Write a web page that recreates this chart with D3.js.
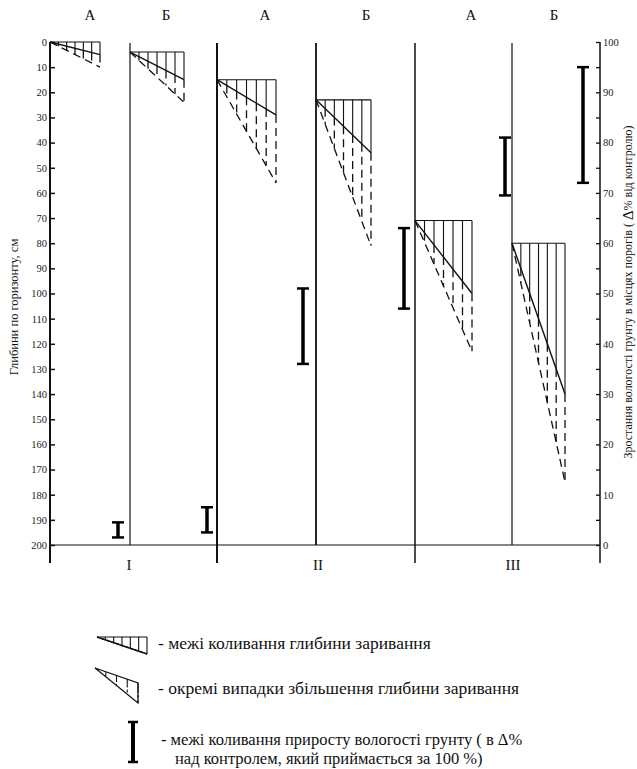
<!DOCTYPE html>
<meta charset="utf-8">
<style>
body { margin: 0; background: #fff; }
text { font-family: "Liberation Serif", "DejaVu Serif", serif; fill: #111; }
.tick text { font-family: "Liberation Serif", serif; font-size: 10.5px; fill: #222; }
</style>
<svg width="637" height="769"></svg>
<script src="https://cdn.jsdelivr.net/npm/d3@7/dist/d3.min.js"></script>
<script>
// chart values
var columns = ["I-А", "I-Б", "II-А", "II-Б", "III-А", "III-Б"];
var groups = ["I", "II", "III"];
var subLabels = ["А", "Б", "А", "Б", "А", "Б"];
var depthTop = [0, 4, 15, 23, 71, 80];       // start of ploughing-in, cm
var depthUsual = [5, 15, 29, 44, 100, 140];  // usual limit, cm
var depthMax = [10, 24, 56, 81, 123, 175];   // single cases, cm
var moistMin = [1.5, 2.5, 36, 47, 69.5, 72]; // Δ% over control
var moistMax = [4.5, 7.5, 51, 63, 81, 95];
var depthTicks = d3.range(0, 201, 10);
var moistTicks = d3.range(0, 101, 5);

var svg = d3.select("svg");

// scales
var yDepth = d3.scaleLinear().domain([0, 200]).range([42, 545]);
var yMoist = d3.scaleLinear().domain([0, 100]).range([545, 42]);
var xCol = d3.scaleOrdinal().domain(columns).range([50, 130, 217, 316, 415, 512]);
var triW = d3.scaleOrdinal().domain(columns).range([50, 54, 59, 55, 57, 53]);
var xBar = d3.scaleOrdinal().domain(columns).range([118, 207, 303, 404, 505, 583]);
var xSub = d3.scaleOrdinal().domain(columns).range([90, 166, 265, 366, 471, 554]);
var xGroup = d3.scaleOrdinal().domain(groups).range([129, 318, 513]);

// frame lines
var frame = [
  {x: 50, y1: 42, y2: 563, w: 2},
  {x: 130, y1: 43, y2: 545, w: 1.2},
  {x: 217, y1: 43, y2: 563, w: 2},
  {x: 316, y1: 43, y2: 545, w: 1.8},
  {x: 415, y1: 43, y2: 563, w: 1.5},
  {x: 512, y1: 43, y2: 545, w: 1.2},
  {x: 600, y1: 42, y2: 563, w: 1.5}
];
svg.append("g").selectAll("line").data(frame).enter().append("line")
    .attr("x1", function(d) { return d.x; }).attr("x2", function(d) { return d.x; })
    .attr("y1", function(d) { return d.y1; }).attr("y2", function(d) { return d.y2; })
    .attr("stroke", "#111").attr("stroke-width", function(d) { return d.w; });
svg.append("line").attr("x1", 50).attr("x2", 600).attr("y1", 545).attr("y2", 545)
    .attr("stroke", "#111").attr("stroke-width", 1.2);

// left axis (depth)
var gl = svg.append("g").attr("transform", "translate(50,0)")
    .call(d3.axisLeft(yDepth).tickValues(depthTicks).tickSize(-5).tickSizeOuter(0).tickPadding(3));
gl.select(".domain").remove();
gl.selectAll(".tick line").attr("stroke", "#111").attr("stroke-width", 1.5);

// right axis (moisture)
var gr = svg.append("g").attr("transform", "translate(600,0)")
    .call(d3.axisRight(yMoist).tickValues(moistTicks).tickSize(-4).tickSizeOuter(0).tickPadding(3)
      .tickFormat(function(d) { return d % 10 === 0 ? d : ""; }));
gr.select(".domain").remove();
gr.selectAll(".tick line").attr("stroke", "#111").attr("stroke-width", 1.3);

// axis titles
svg.append("text")
    .attr("transform", "translate(14,307) rotate(-90)")
    .attr("text-anchor", "middle").attr("dominant-baseline", "central")
    .style("font-size", "12.5px")
    .text("Глибини по горизонту, см");

var rt = svg.append("text")
    .attr("transform", "translate(628,292) rotate(-90)")
    .attr("text-anchor", "middle").attr("dominant-baseline", "central")
    .style("font-size", "12px");
rt.append("tspan").text("Зростання вологості грунту в місцях порогів ( ");
rt.append("tspan").style("font-size", "15px").text("Δ");
rt.append("tspan").text("% від контролю)");

// column and group labels
svg.append("g").selectAll("text").data(columns).enter().append("text")
    .attr("x", function(d) { return xSub(d); }).attr("y", 20)
    .attr("text-anchor", "middle").style("font-size", "15px")
    .text(function(d, i) { return subLabels[i]; });
svg.append("g").selectAll("text").data(groups).enter().append("text")
    .attr("x", function(d) { return xGroup(d); }).attr("y", 570)
    .attr("text-anchor", "middle").style("font-size", "15px")
    .text(function(d) { return d; });

// wedge: hatched triangle with dashed extension
function wedge(g, x0, w, y0, y1, y2, n, dash) {
  var sw = 1.1;
  g.append("line").attr("x1", x0).attr("y1", y0).attr("x2", x0 + w).attr("y2", y0)
      .attr("stroke", "#111").attr("stroke-width", sw);
  g.append("line").attr("x1", x0).attr("y1", y0).attr("x2", x0 + w).attr("y2", y1)
      .attr("stroke", "#111").attr("stroke-width", sw + 0.3);
  g.append("line").attr("x1", x0).attr("y1", y0).attr("x2", x0 + w).attr("y2", y2)
      .attr("stroke", "#111").attr("stroke-width", sw + 0.2).attr("stroke-dasharray", dash);
  d3.range(1, n + 1).forEach(function(k) {
    var f = k / n, x = x0 + w * f,
        ya = y0 + (y1 - y0) * f, yb = y0 + (y2 - y0) * f;
    g.append("line").attr("x1", x).attr("y1", y0).attr("x2", x).attr("y2", ya)
        .attr("stroke", "#111").attr("stroke-width", sw);
    g.append("line").attr("x1", x).attr("y1", ya).attr("x2", x).attr("y2", yb)
        .attr("stroke", "#111").attr("stroke-width", sw + 0.2).attr("stroke-dasharray", dash);
  });
}

columns.forEach(function(c, i) {
  wedge(svg.append("g"), xCol(c), triW(c), yDepth(depthTop[i]), yDepth(depthUsual[i]), yDepth(depthMax[i]), 6, "8,5");
});

// I-beams for moisture growth
function ibeam(g, x, ya, yb, half, sw) {
  g.append("line").attr("x1", x).attr("x2", x).attr("y1", ya).attr("y2", yb)
      .attr("stroke", "#000").attr("stroke-width", sw);
  [ya, yb].forEach(function(y) {
    g.append("line").attr("x1", x - half).attr("x2", x + half).attr("y1", y).attr("y2", y)
        .attr("stroke", "#000").attr("stroke-width", 2.5);
  });
}
columns.forEach(function(c, i) {
  ibeam(svg.append("g"), xBar(c), yMoist(moistMax[i]), yMoist(moistMin[i]), 6, 3.5);
});

// legend
var lg = svg.append("g");
wedge(lg.append("g"), 97, 50, 637, 654, 654, 6, "3,2");
lg.append("text").attr("x", 158).attr("y", 643).attr("dominant-baseline", "central")
    .style("font-size", "17.5px").text("- межі коливання глибини заривання");

var l2 = lg.append("g");
l2.append("path").attr("d", "M95,668 L138,683 L138,703 Z").attr("fill", "none")
    .attr("stroke", "#111").attr("stroke-width", 1.2);
d3.range(1, 5).forEach(function(k) {
  var f = k / 4, x = 95 + 43 * f;
  l2.append("line").attr("x1", x).attr("x2", x).attr("y1", 668 + 15 * f).attr("y2", 668 + 22 * f)
      .attr("stroke", "#111").attr("stroke-width", 1.1);
  l2.append("line").attr("x1", x).attr("x2", x).attr("y1", 668 + 22 * f).attr("y2", 668 + 35 * f)
      .attr("stroke", "#111").attr("stroke-width", 1.1).attr("stroke-dasharray", "3,2");
});
lg.append("text").attr("x", 158).attr("y", 688).attr("dominant-baseline", "central")
    .style("font-size", "17.5px").text("- окремі випадки збільшення глибини заривання");

ibeam(lg.append("g"), 133, 722, 762, 5, 4);
lg.append("text").attr("x", 161).attr("y", 739).attr("dominant-baseline", "central")
    .style("font-size", "16.5px").text("- межі коливання приросту вологості грунту ( в Δ%");
lg.append("text").attr("x", 175).attr("y", 758).attr("dominant-baseline", "central")
    .style("font-size", "16.5px").text("над контролем, який приймається за 100 %)");
</script>
